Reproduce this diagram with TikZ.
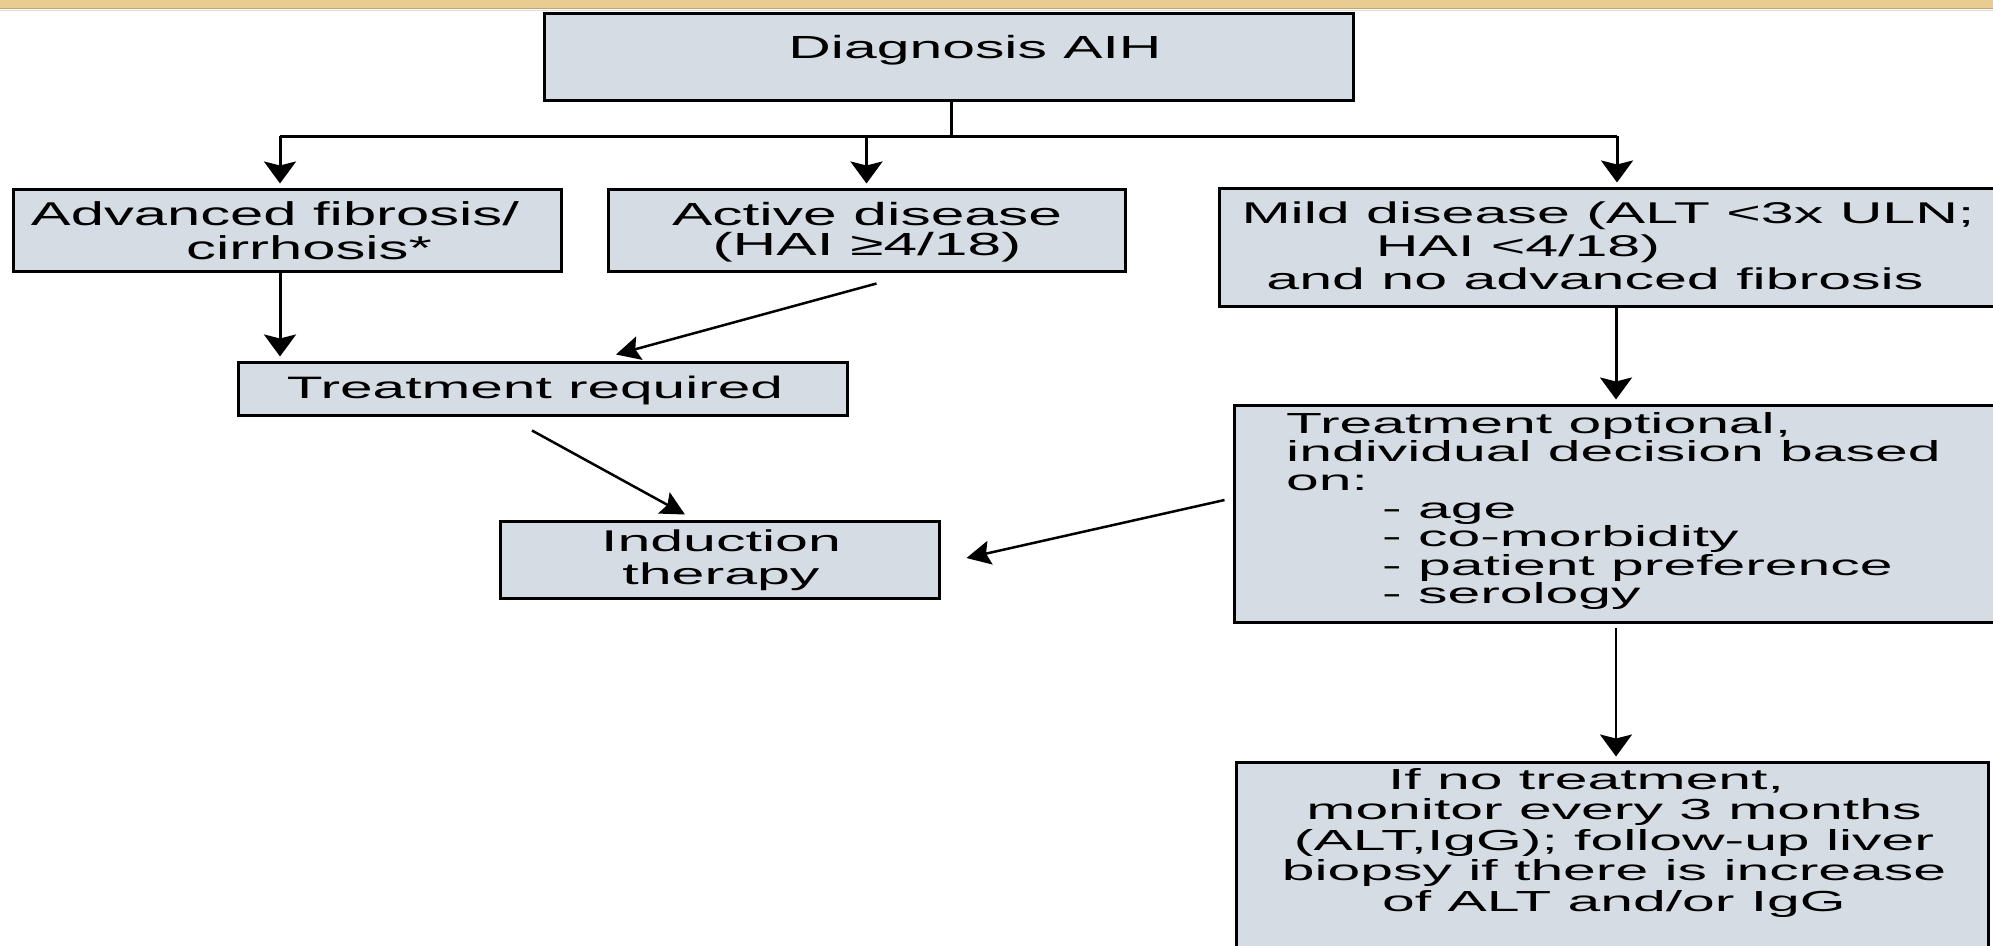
\documentclass[tikz,border=0pt]{standalone}
\usepackage{fontspec}
\setmainfont{Liberation Sans}
\usetikzlibrary{arrows.meta,calc}
\definecolor{boxfill}{RGB}{213,220,228}
\definecolor{bandtan}{RGB}{232,204,146}
\definecolor{bandedge}{RGB}{196,166,112}
% size, baseline skip, horizontal stretch
\newcommand\chartfont[3]{\fontsize{#1}{#2}\selectfont\addfontfeature{FakeStretch=#3}}
\begin{document}
\begin{tikzpicture}[x=1pt,y=-1pt,
  stepbox/.style={draw=black,line width=3pt,fill=boxfill,rectangle,inner sep=0pt},
  boxtext/.style={inner sep=0pt,anchor=north,align=center},
  link/.style={line width=3pt},
  arrowlink/.style={line width=3pt,shorten >=4pt,-{Stealth[length=22pt,width=32pt,inset=4pt]}},
  slant/.style={line width=2.5pt,-{Stealth[length=24pt,width=24pt,inset=4pt]}}
]
\useasboundingbox (0,0) rectangle (1993,945);
\clip (0,0) rectangle (1993,945);
\fill[white] (0,0) rectangle (1993,945);
% header band
\fill[bandtan] (0,0) rectangle (1993,8);
\draw[bandedge,line width=1.5pt] (0,8.5) -- (1993,8.5);
\draw[black!12,line width=1.5pt] (0,10.5) -- (1993,10.5);

% boxes
\node[stepbox,minimum width=809pt,minimum height=87pt] (diag) at (948.5,56.5) {};
\node[stepbox,minimum width=548pt,minimum height=82pt] (adv) at (287,230) {};
\node[stepbox,minimum width=517pt,minimum height=82pt] (act) at (866.5,230) {};
\node[stepbox,minimum width=779pt,minimum height=118pt] (mild) at (1608.5,247) {};
\node[stepbox,minimum width=609pt,minimum height=53pt] (treq) at (542.5,388.5) {};
\node[stepbox,minimum width=439pt,minimum height=77pt] (ind) at (719.5,559.5) {};
\node[stepbox,minimum width=764pt,minimum height=217pt] (opt) at (1616,513.5) {};
\node[stepbox,minimum width=752pt,minimum height=198pt] (ifno) at (1612,861) {};

% box texts
\node[boxtext,font=\chartfont{32}{30}{1.84}] (diagT) at (975,35) {Diagnosis AIH};
\node[boxtext,font=\chartfont{33}{34}{1.81}] (advT) at (275,201)
  {Advanced fibrosis/\\\hspace*{68pt}cirrhosis*};
\node[boxtext,font=\chartfont{32}{30}{1.89}] (actT) at (867,202)
  {Active disease\\(HAI ≥4/18)};
\node[boxtext,font=\chartfont{30}{33}{1.97}] (mildT) at (1608,202)
  {Mild disease (ALT <3x ULN;\\HAI <4/18)\hspace*{180pt}\null\\and no advanced fibrosis\hspace*{26pt}\null};
\node[boxtext,font=\chartfont{31}{30}{1.89}] (treqT) at (535,376) {Treatment required};
\node[boxtext,font=\chartfont{30}{33}{1.97}] (indT) at (721,530) {Induction\\therapy};
\node[boxtext,anchor=north west,align=left,font=\chartfont{29}{28.4}{2.03}] (optT) at (1286,412)
  {Treatment optional,\\individual decision based\\on:\\
   \hspace*{96pt}- age\\\hspace*{96pt}- co-morbidity\\
   \hspace*{96pt}- patient preference\\\hspace*{96pt}- serology};
\node[boxtext,font=\chartfont{29}{30.5}{2.03}] (ifnoT) at (1614,768)
  {If no treatment,\hspace*{56pt}\null\\monitor every 3 months\\(ALT,IgG); follow-up liver\\biopsy if there is increase\\of ALT and/or IgG};

% connectors
\coordinate (j) at (951,136);
\coordinate (dropA) at ([xshift=-7pt]adv.north);
\coordinate (dropM) at ([xshift=8.5pt]mild.north);
\coordinate (outA) at ([xshift=-7pt]adv.south);
\draw[link] (j |- diag.south) -- (j);
\draw[link] (j -| dropA) -- (j -| dropM);
\draw[arrowlink] (j -| dropA) -- (dropA);
\draw[arrowlink] (j -| act.north) -- (act.north);
\draw[arrowlink] (j -| dropM) -- (dropM);
\draw[arrowlink] (outA) -- (outA |- treq.north);
\draw[slant] ([shift={(10,11)}]act.south) -- ([shift={(73.5,-6)}]treq.north);
\draw[slant] ([shift={(-10.5,14)}]treq.south) -- ([shift={(-34.5,-5)}]ind.north);
\draw[slant] ([shift={(-8,-13.5)}]opt.west) -- ([shift={(26,-1.5)}]ind.east);
\draw[arrowlink] (opt.north |- mild.south) -- (opt.north);
\draw[arrowlink,line width=2.5pt,shorten <=4pt] (opt.south) -- (opt.south |- ifno.north);
\end{tikzpicture}
\end{document}
